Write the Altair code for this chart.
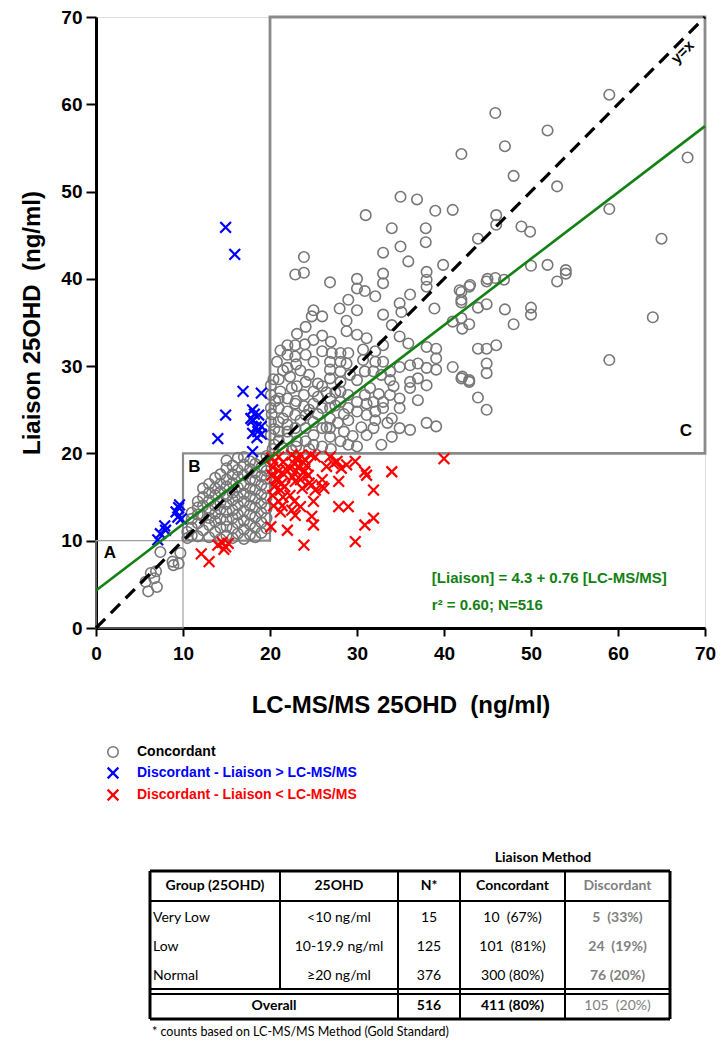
import altair as alt
import pandas as pd

# ------------------------------------------------------------------ data
# Concordant results (LC-MS/MS, Liaison)
conc_a = [(6.0, 4.2), (7.0, 4.7), (5.7, 5.3), (6.7, 5.7), (6.3, 6.3), (6.9, 6.5),
          (7.4, 8.7), (8.9, 7.2), (9.5, 7.4), (9.7, 8.6), (8.8, 7.6)]

conc_b_x = [10.5, 11.0, 11.7, 12.3, 13.0, 13.7, 14.3, 15.0, 15.7, 16.3, 17.0, 17.7, 18.3, 19.0, 19.6]
conc_b_y = [
    [10.3, 11.0],
    [10.6, 11.5, 12.5, 13.2],
    [10.5, 12.0, 13.0, 13.8, 14.5],
    [11.2, 12.8, 14.0, 15.0, 16.0],
    [10.4, 11.8, 12.6, 13.5, 14.6, 15.5, 16.5],
    [11.0, 12.2, 13.1, 14.0, 15.2, 16.0, 17.2],
    [10.2, 11.5, 12.5, 13.6, 14.4, 15.6, 16.5, 17.6],
    [10.6, 11.6, 12.4, 13.3, 14.2, 15.1, 16.2, 17.0, 18.3, 19.2],
    [10.3, 11.4, 12.6, 13.5, 14.7, 15.5, 16.6, 17.6, 18.6],
    [10.8, 12.0, 13.0, 14.1, 15.0, 16.1, 17.3, 18.1, 19.5],
    [10.2, 11.3, 12.3, 13.4, 14.5, 15.4, 16.4, 17.5, 18.7, 19.6],
    [10.7, 11.9, 13.0, 14.0, 15.1, 16.0, 17.0, 18.2, 19.1],
    [10.4, 11.5, 12.7, 13.8, 14.8, 15.8, 16.9, 17.8, 18.8],
    [10.9, 12.1, 13.2, 14.3, 15.3, 16.4, 17.4, 18.4, 19.4],
    [11.4, 12.6, 13.7, 14.9, 16.0, 17.1, 18.0, 19.7],
]

conc_c = [
    (23.9, 42.5), (22.9, 40.5), (23.9, 40.7), (26.9, 39.6), (30.0, 40.0), (33.0, 40.6), (33.0, 39.5),
    (35.9, 42.0), (38.0, 40.8), (38.0, 39.9), (38.0, 39.1), (39.9, 41.6), (42.9, 39.1), (41.8, 38.7),
    (30.0, 38.9), (30.9, 38.6), (32.1, 38.0), (29.0, 37.6), (28.0, 36.6), (30.0, 36.4), (34.9, 37.2),
    (36.1, 38.2), (35.1, 36.2), (38.9, 36.6), (42.0, 37.6), (25.0, 36.4), (24.8, 35.7), (26.0, 35.7),
    (33.0, 35.9), (28.8, 35.2), (24.1, 34.5), (23.1, 33.7), (28.8, 34.0), (30.0, 33.6), (31.1, 33.2),
    (34.0, 34.7), (34.9, 33.4), (35.9, 32.6), (41.0, 35.1), (42.0, 35.5), (42.1, 34.3), (33.0, 32.4),
    (22.0, 32.4), (22.9, 32.4), (24.1, 31.3), (26.0, 31.7), (27.1, 31.5), (28.1, 31.5), (29.0, 31.5),
    (30.7, 31.9), (32.1, 31.7), (38.0, 32.2), (39.1, 32.0), (22.0, 31.3), (22.9, 31.1), (25.0, 30.5),
    (26.9, 30.5), (28.1, 30.5), (28.8, 30.3), (30.7, 30.7), (32.1, 30.5), (33.0, 30.5), (34.9, 29.9),
    (36.1, 30.1), (37.0, 30.3), (39.1, 30.9), (39.1, 29.6), (38.0, 29.8), (41.0, 29.9), (42.1, 28.8),
    (42.9, 28.2), (24.1, 28.2), (23.1, 27.7), (21.2, 27.1), (26.0, 27.7), (25.0, 27.1), (26.9, 29.6),
    (26.9, 28.6), (28.1, 29.4), (28.1, 28.2), (29.2, 29.0), (30.0, 28.4), (30.9, 29.4), (31.9, 29.4),
    (32.8, 29.0), (33.8, 29.4), (33.8, 28.4), (34.2, 27.7), (36.1, 28.2), (37.0, 28.6), (38.0, 27.8),
    (20.1, 27.8), (20.1, 26.7), (21.0, 26.3), (22.0, 26.3), (22.9, 25.7), (23.9, 26.7), (23.9, 25.4),
    (25.0, 25.7), (26.0, 25.2), (26.9, 26.3), (26.9, 25.2), (28.1, 27.1), (28.1, 25.9), (29.0, 26.7),
    (29.0, 25.2), (30.0, 25.9), (30.9, 26.7), (31.1, 25.7), (31.9, 25.9), (32.1, 24.8), (33.0, 25.9),
    (33.8, 26.7), (34.9, 26.3), (34.9, 25.2), (36.1, 27.5), (37.0, 26.1), (21.0, 25.2), (22.0, 24.8),
    (22.9, 24.4), (24.1, 24.4), (25.0, 23.6), (26.9, 24.0), (29.0, 23.8), (30.0, 24.8), (31.1, 24.4),
    (32.1, 23.8), (33.0, 25.2), (21.0, 23.6), (21.0, 22.5), (22.0, 23.3), (22.9, 22.9), (24.1, 22.9),
    (25.0, 22.1), (26.0, 22.9), (26.9, 22.9), (26.9, 21.9), (28.1, 21.4), (29.0, 21.0), (30.0, 20.8),
    (31.1, 22.1), (31.9, 22.9), (32.8, 21.0), (34.0, 21.9), (34.9, 22.9), (36.1, 22.7), (38.0, 23.5),
    (39.1, 23.1), (21.0, 21.5), (22.0, 21.7), (23.1, 21.4), (24.1, 21.4), (25.0, 21.0), (20.1, 23.6),
    (20.1, 25.2), (20.1, 22.1), (20.3, 20.5), (20.5, 21.0), (20.2, 24.5), (20.6, 26.0), (20.4, 28.5),
    (21.5, 29.5), (20.8, 30.5), (21.2, 31.8), (20.5, 22.8), (21.5, 24.0), (22.5, 27.5), (22.3, 28.8),
    (23.5, 29.5), (24.5, 29.0), (23.0, 26.0), (25.5, 26.5), (27.5, 27.0), (26.5, 23.0), (27.8, 23.5),
    (28.5, 22.5), (25.5, 24.5), (24.5, 20.5), (26.0, 20.8), (27.0, 20.5), (22.5, 20.3), (21.5, 20.6),
    (21.0, 28.5), (22.0, 29.8), (23.0, 30.2), (24.0, 32.5), (25.0, 33.0), (26.0, 33.5), (27.0, 32.8),
    (27.5, 25.5), (28.5, 24.5), (29.5, 22.0), (30.5, 23.0), (31.5, 27.5), (32.5, 26.8), (33.5, 23.5),
    (23.5, 23.8), (24.5, 25.0), (22.0, 22.5), (23.0, 20.8), (25.5, 28.0), (26.5, 27.0),
    (35.0, 49.4), (36.9, 49.1), (31.0, 47.3), (34.0, 45.8), (37.9, 45.8), (39.0, 47.8), (41.0, 47.9),
    (35.0, 43.7), (37.9, 44.2), (33.0, 43.0), (45.9, 59.0), (51.9, 57.0), (47.0, 55.2), (42.0, 54.3),
    (48.0, 51.8), (53.0, 50.6), (46.0, 47.3), (46.0, 46.2), (48.9, 46.0), (49.9, 45.4), (43.9, 44.6),
    (51.9, 41.6), (45.9, 40.1), (46.9, 39.9), (45.0, 40.0), (43.0, 39.3), (59.0, 61.1), (68.0, 53.9),
    (59.0, 48.0), (65.0, 44.6), (50.0, 41.5), (54.0, 41.0), (54.0, 40.6), (53.0, 39.7), (44.9, 39.7),
    (42.0, 38.5), (42.0, 37.3), (43.9, 36.7), (44.9, 37.1), (42.9, 34.8), (47.0, 36.5), (48.0, 34.8),
    (50.0, 36.7), (50.0, 35.9), (64.0, 35.6), (59.0, 30.7), (43.9, 32.0), (44.9, 32.0), (46.0, 32.4),
    (44.9, 30.3), (44.9, 29.2), (42.0, 28.6), (42.9, 28.4), (43.9, 26.4), (44.9, 25.0), (34.0, 24.0),
]

# Discordant - Liaison > LC-MS/MS (blue)
disc_above = [(7.1, 10.1), (7.4, 10.8), (7.9, 11.7), (8.0, 11.2), (9.2, 13.3), (9.6, 14.1),
              (9.4, 12.7), (9.8, 12.5), (9.5, 13.8),
              (14.0, 21.7), (14.9, 24.4), (16.9, 27.1), (19.0, 26.9), (18.0, 20.2), (18.0, 25.0),
              (18.2, 24.5), (18.0, 23.8), (18.4, 23.0), (18.0, 22.3), (18.6, 22.5), (19.0, 22.2),
              (19.0, 23.1), (18.5, 21.8), (17.8, 24.0), (18.7, 24.4), (14.9, 45.9), (15.95, 42.8)]

# Discordant - Liaison < LC-MS/MS (red)
disc_below = [
    (12.1, 8.5), (13.0, 7.6), (14.0, 9.5), (14.5, 9.8), (14.9, 9.3), (15.2, 9.7), (14.7, 9.0),
    (20.2, 19.5), (21.0, 19.6), (21.5, 19.0), (20.3, 18.4), (21.0, 18.0), (20.2, 17.5), (21.6, 17.6),
    (20.8, 16.9), (21.3, 16.5), (20.5, 16.2), (21.2, 15.8), (21.5, 15.0), (20.3, 15.2), (21.0, 14.5),
    (21.4, 14.0), (22.5, 19.8), (23.0, 19.5), (23.5, 19.8), (24.0, 19.3), (22.8, 18.8), (23.3, 18.5),
    (24.2, 18.6), (23.0, 18.0), (23.8, 17.8), (22.6, 17.3), (24.4, 17.5), (23.5, 17.0), (24.7, 19.8),
    (25.2, 19.6), (22.9, 16.8), (23.7, 16.0), (24.8, 16.4), (26.0, 17.0), (25.2, 15.8), (26.2, 16.0),
    (26.9, 19.6), (27.7, 19.1), (28.2, 18.3), (27.9, 16.8), (28.8, 18.7), (29.8, 19.1), (30.9, 17.9),
    (31.1, 17.5), (34.0, 17.9), (31.9, 15.8), (30.9, 11.8), (31.9, 12.6), (29.8, 9.9), (27.9, 13.9),
    (29.0, 13.9), (23.9, 9.5), (22.0, 11.2), (20.1, 11.6), (22.9, 12.9), (24.8, 12.8), (25.0, 11.8),
    (22.5, 13.5), (21.2, 13.3), (25.0, 14.5), (22.3, 15.2), (23.5, 13.9), (26.0, 16.2), (40.0, 19.4),
    (20.5, 19.0), (21.8, 18.2), (20.8, 17.2), (23.8, 19.0), (22.3, 18.3), (24.0, 18.0), (23.2, 19.2),
    (20.4, 14.0), (21.7, 16.2), (22.8, 14.5), (26.5, 18.5), (27.3, 18.8), (24.5, 16.6)]

fit_intercept = 4.3
fit_slope = 0.76

region_names = ["A", "B", "C"]
region_lo = [0, 10, 20]
region_hi = [10, 20, 70]

legend_labels = ["Concordant", "Discordant - Liaison > LC-MS/MS", "Discordant - Liaison < LC-MS/MS"]

table_header = ["Group (25OHD)", "25OHD", "N*", "Concordant", "Discordant"]
table_groups = ["Very Low", "Low", "Normal"]
table_ranges = ["<10 ng/ml", "10-19.9 ng/ml", "\u226520 ng/ml"]
table_n = ["15", "125", "376"]
table_conc = ["10\u00a0 (67%)", "101\u00a0 (81%)", "300 (80%)"]
table_disc = ["5\u00a0 (33%)", "24\u00a0 (19%)", "76 (20%)"]
table_overall = ["Overall", "516", "411 (80%)", "105\u00a0 (20%)"]
table_note = "* counts based on LC-MS/MS Method (Gold Standard)"
table_super = "Liaison Method"

# ------------------------------------------------------------------ frames
conc_pts = list(conc_a) + [(bx, by) for bx, col in zip(conc_b_x, conc_b_y) for by in col] + list(conc_c)
conc_df = pd.DataFrame(conc_pts, columns=["x", "y"])
above_df = pd.DataFrame(disc_above, columns=["x", "y"])
below_df = pd.DataFrame(disc_below, columns=["x", "y"])
diag_df = pd.DataFrame({"x": [0, 70], "y": [0, 70]})
fit_df = pd.DataFrame({"x": [0, 70], "y": [fit_intercept, fit_intercept + fit_slope * 70]})
box_df = pd.DataFrame({"name": region_names, "x": region_lo, "x2": region_hi,
                       "y": region_lo, "y2": region_hi})

FONT = "Liberation Sans"
GREEN = "#138113"
GRAY = "#808080"

ax_x = alt.Axis(values=list(range(0, 71, 10)), title="LC-MS/MS 25OHD\u00a0 (ng/ml)", grid=False,
                domainColor="black", domainWidth=3, tickColor="black", tickWidth=2, tickSize=8,
                labelFont=FONT, labelFontSize=19, labelFontWeight="bold", labelColor="black",
                labelPadding=8, labelFlush=False, labelOverlap=False,
                titleFont=FONT, titleFontSize=24, titleFontWeight="bold", titleColor="black",
                titlePadding=30)
ax_y = alt.Axis(values=list(range(0, 71, 10)), title="Liaison 25OHD\u00a0 (ng/ml)", grid=False,
                domainColor="black", domainWidth=3, tickColor="black", tickWidth=2, tickSize=10,
                labelFont=FONT, labelFontSize=19, labelFontWeight="bold", labelColor="black",
                labelPadding=4, labelFlush=False, labelOverlap=False,
                titleFont=FONT, titleFontSize=24, titleFontWeight="bold", titleColor="black",
                titlePadding=16)
sx = alt.Scale(domain=[0, 70], nice=False, zero=False)
sy = alt.Scale(domain=[0, 70], nice=False, zero=False)
X = alt.X("x:Q", scale=sx, axis=ax_x)
Y = alt.Y("y:Q", scale=sy, axis=ax_y)

box_styles = [("#a0a0a0", 1.2), ("#8a8a8a", 2.2), ("#8a8a8a", 2.8)]
boxes = [alt.Chart(box_df.iloc[[i]]).mark_rect(fillOpacity=0, stroke=c, strokeWidth=w)
         .encode(x=X, x2="x2:Q", y=Y, y2="y2:Q") for i, (c, w) in enumerate(box_styles)]

box_lab_df = pd.DataFrame({"t": region_names, "x": [1.6, 11.3, 67.8], "y": [8.6, 18.4, 22.6]})
box_labels = alt.Chart(box_lab_df).mark_text(font=FONT, fontSize=17, fontWeight="bold",
                                              color="black").encode(x=X, y=Y, text="t:N")

CROSS = "M-1,-1L1,1M-1,1L1,-1"
circles = alt.Chart(conc_df).mark_point(shape="circle", filled=False, color="#777777",
                                        strokeWidth=1.6, size=110, opacity=1).encode(x=X, y=Y)
reds = alt.Chart(below_df).mark_point(shape=CROSS, filled=False, color="#ff0000",
                                      strokeWidth=2.2, size=115, opacity=1).encode(x=X, y=Y)
blues = alt.Chart(above_df).mark_point(shape=CROSS, filled=False, color="#0000ff",
                                       strokeWidth=2.2, size=115, opacity=1).encode(x=X, y=Y)
fit_line = alt.Chart(fit_df).mark_line(color=GREEN, strokeWidth=2.6).encode(x=X, y=Y)
diag_line = alt.Chart(diag_df).mark_line(color="black", strokeWidth=3.2,
                                         strokeDash=[13, 8]).encode(x=X, y=Y)

eq_df = pd.DataFrame({"t": ["[Liaison] = 4.3 + 0.76 [LC-MS/MS]", "r\u00b2 = 0.60; N=516"],
                      "x": [38.6, 38.6], "y": [5.7, 2.6]})
eq_text = alt.Chart(eq_df).mark_text(align="left", font=FONT, fontSize=15, fontWeight="bold",
                                     color=GREEN).encode(x=X, y=Y, text="t:N")
yx_df = pd.DataFrame({"t": ["y=x"], "x": [67.4], "y": [66.0]})
yx_text = alt.Chart(yx_df).mark_text(angle=315, font=FONT, fontSize=15, fontWeight="bold",
                                     color="black").encode(x=X, y=Y, text="t:N")

main = alt.layer(*boxes, circles, reds, blues, fit_line, diag_line, box_labels, eq_text, yx_text)

# ------------------------------------------------------------------ legend + table (pixel layout)
OX, OY = 96, 17  # page position of the plot origin
PX = alt.X("px:Q", scale=None, axis=None)
PY = alt.Y("py:Q", scale=None, axis=None)

leg_rows = [752, 773, 795]
leg_sym = pd.DataFrame({"px": [113 - OX] * 3, "py": [r - OY for r in leg_rows]})
leg_circle = alt.Chart(leg_sym.iloc[[0]]).mark_point(shape="circle", filled=False, color="#777777",
                                                     strokeWidth=1.6, size=110, opacity=1).encode(x=PX, y=PY)
leg_blue = alt.Chart(leg_sym.iloc[[1]]).mark_point(shape=CROSS, filled=False, color="#0000ff",
                                                   strokeWidth=2.2, size=115, opacity=1).encode(x=PX, y=PY)
leg_red = alt.Chart(leg_sym.iloc[[2]]).mark_point(shape=CROSS, filled=False, color="#ff0000",
                                                  strokeWidth=2.2, size=115, opacity=1).encode(x=PX, y=PY)
leg_txt_df = pd.DataFrame({"t": legend_labels, "px": [137 - OX] * 3, "py": [r - OY for r in leg_rows],
                           "c": ["black", "#0000ff", "#ff0000"]})
leg_text = alt.Chart(leg_txt_df).mark_text(align="left", baseline="middle", font=FONT, fontSize=14,
                                           fontWeight="bold").encode(
    x=PX, y=PY, text="t:N", color=alt.Color("c:N", scale=None))

# table geometry (page pixels)
col_edges = [150, 280, 398, 460, 565, 670]
col_mid = [(a + b) / 2 for a, b in zip(col_edges[:-1], col_edges[1:])]
t_top, t_head_bot, t_sep1, t_sep2, t_bot = 871, 901, 989, 994, 1019
row_y = [918, 947, 976]
head_y = 886
overall_y = 1006

rules = []
rules.append((col_edges[0], t_top, col_edges[-1], t_top, 3))
rules.append((col_edges[0], t_bot, col_edges[-1], t_bot, 3))
rules.append((col_edges[0], t_top, col_edges[0], t_bot, 3))
rules.append((col_edges[-1], t_top, col_edges[-1], t_bot, 3))
rules.append((col_edges[0], t_head_bot, col_edges[-1], t_head_bot, 2))
rules.append((col_edges[0], t_sep1, col_edges[-1], t_sep1, 2))
rules.append((col_edges[0], t_sep2, col_edges[-1], t_sep2, 2))
rules.append((col_edges[1], t_top, col_edges[1], t_sep1, 2))
for e in col_edges[2:-1]:
    rules.append((e, t_top, e, t_bot, 2))
rule_df = pd.DataFrame([(a - OX, b - OY, c - OX, d - OY, w) for a, b, c, d, w in rules],
                       columns=["px", "py", "px2", "py2", "w"])
table_rules = alt.Chart(rule_df).mark_rule(color="black").encode(
    x=PX, y=PY, x2="px2:Q", y2="py2:Q", strokeWidth=alt.StrokeWidth("w:Q", scale=None))

TFONT = "Lato"
cells_bold, cells_norm, cells_left = [], [], []
for i, h in enumerate(table_header):
    cells_bold.append((h, col_mid[i], head_y, "black" if i < 4 else GRAY))
for r in range(3):
    cells_left.append((table_groups[r], col_edges[0] + 3, row_y[r], "black"))
    cells_norm.append((table_ranges[r], col_mid[1], row_y[r], "black"))
    cells_norm.append((table_n[r], col_mid[2], row_y[r], "black"))
    cells_norm.append((table_conc[r], col_mid[3], row_y[r], "black"))
    cells_bold.append((table_disc[r], col_mid[4], row_y[r], GRAY))
cells_bold.append((table_overall[0], (col_edges[0] + col_edges[2]) / 2, overall_y, "black"))
cells_bold.append((table_overall[1], col_mid[2], overall_y, "black"))
cells_bold.append((table_overall[2], col_mid[3], overall_y, "black"))
cells_norm.append((table_overall[3], col_mid[4], overall_y, GRAY))
cells_bold.append((table_super, 543, 858, "black"))


def cell_frame(cells):
    return pd.DataFrame([(t, x - OX, y - OY, c) for t, x, y, c in cells], columns=["t", "px", "py", "c"])


t_bold = alt.Chart(cell_frame(cells_bold)).mark_text(font=TFONT, fontSize=14, fontWeight="bold",
                                                     baseline="middle").encode(
    x=PX, y=PY, text="t:N", color=alt.Color("c:N", scale=None))
t_norm = alt.Chart(cell_frame(cells_norm)).mark_text(font=TFONT, fontSize=14,
                                                     baseline="middle").encode(
    x=PX, y=PY, text="t:N", color=alt.Color("c:N", scale=None))
t_left = alt.Chart(cell_frame(cells_left)).mark_text(font=TFONT, fontSize=14, align="left",
                                                     baseline="middle").encode(
    x=PX, y=PY, text="t:N", color=alt.Color("c:N", scale=None))
note_df = pd.DataFrame({"t": [table_note], "px": [152 - OX], "py": [1032 - OY]})
t_note = alt.Chart(note_df).mark_text(font=TFONT, fontSize=12.5, align="left", baseline="middle",
                                      color="black").encode(x=PX, y=PY, text="t:N")

overlay = alt.layer(leg_circle, leg_blue, leg_red, leg_text, table_rules, t_bold, t_norm, t_left, t_note)

chart = alt.layer(main, overlay).resolve_scale(x="independent", y="independent").properties(
    width=609, height=611,
    autosize=alt.AutoSizeParams(type="none"),
    padding={"left": 88, "top": 9, "right": 12, "bottom": 412},
).configure_view(stroke="black", strokeWidth=3).configure(font=FONT)

chart.save("out.html", embed_options={"renderer": "svg", "actions": False})
